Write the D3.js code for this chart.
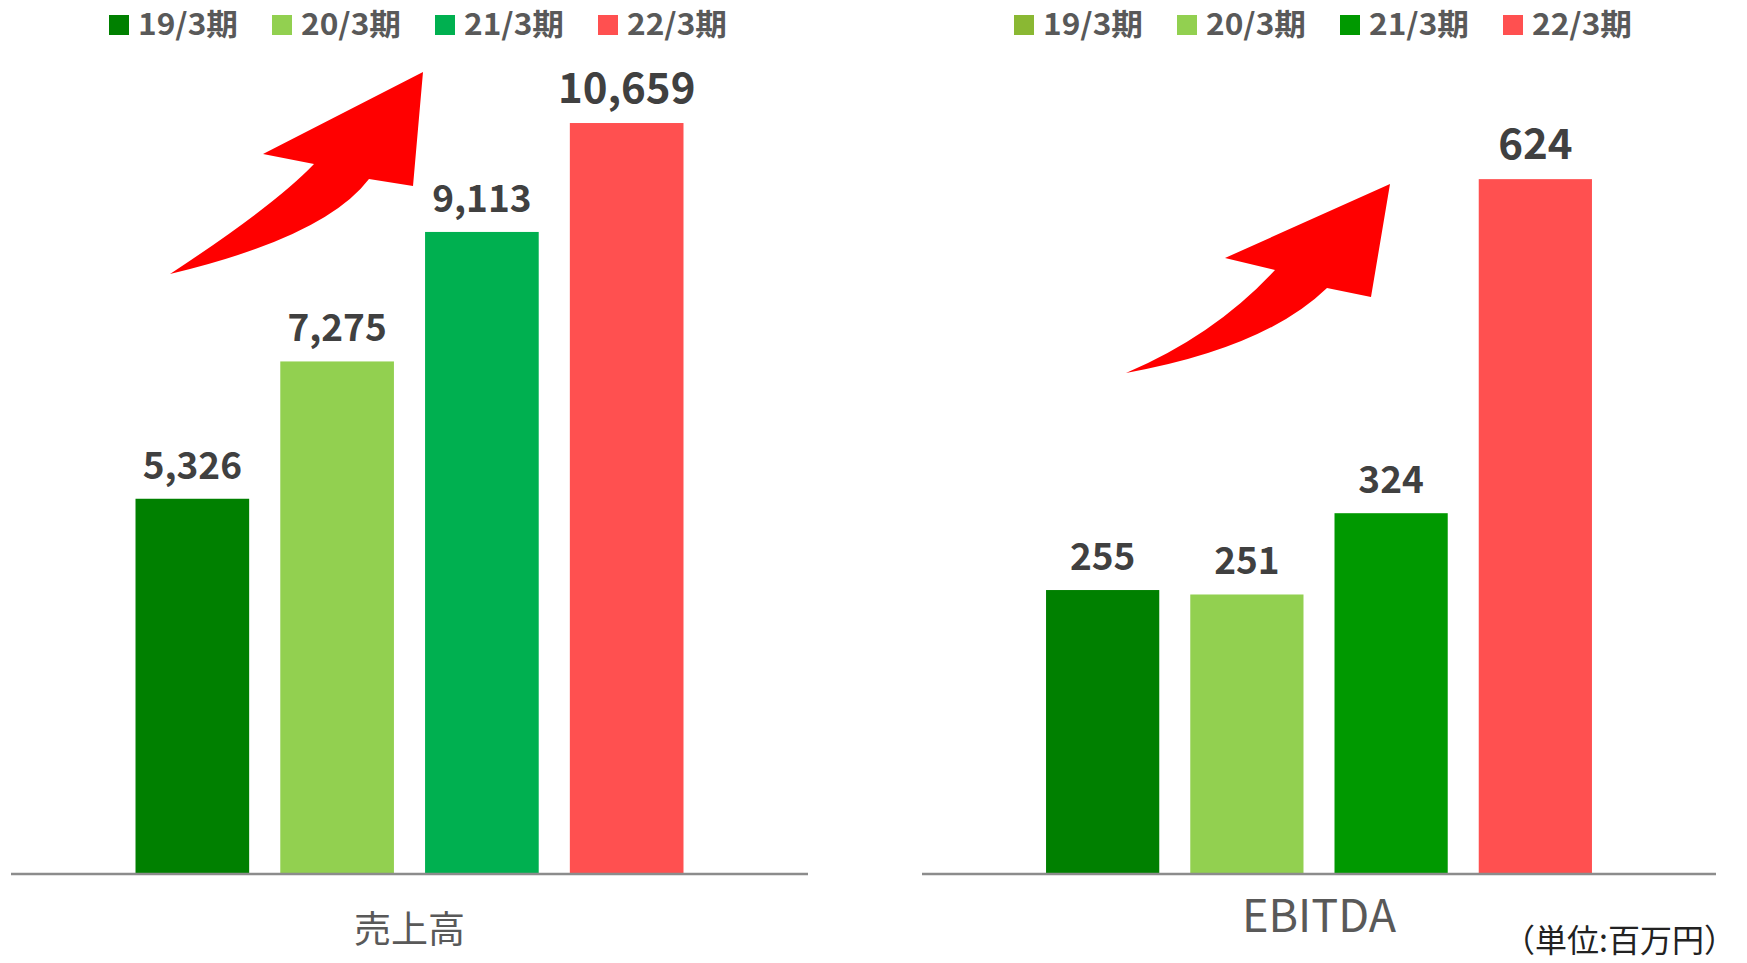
<!DOCTYPE html>
<html>
  <head>
    <meta charset="utf-8" />
    <script src="https://cdn.jsdelivr.net/npm/d3@7/dist/d3.min.js"></script>
    <style>
      body { margin: 0; background: #ffffff; }
      svg { display: block; }
      .legend-text { font-family: "Noto Sans CJK JP", "Noto Sans", sans-serif; font-weight: 700; fill: #595959; }
      .value { font-family: "Noto Sans CJK JP", "Noto Sans", sans-serif; font-weight: 700; fill: #404040; }
      .title { font-family: "Noto Sans CJK JP", "Noto Sans", sans-serif; fill: #595959; }
      .unit { font-family: "Noto Sans CJK JP", sans-serif; fill: #222222; }
      .baseline { stroke: #8c8c8c; stroke-width: 2.5; }
      .arrow { fill: #ff0000; }
    </style>
  </head>
  <body>
    <svg width="1747" height="963"></svg>

    <script type="text/javascript">

    // data
    var periods = ["19/3期", "20/3期", "21/3期", "22/3期"];
    var salesValues = [5326, 7275, 9113, 10659];
    var ebitdaValues = [255, 251, 324, 624];
    var chartTitles = ["売上高", "EBITDA"];
    var unitLabel = "（単位:百万円）";

    var salesColors = ["#008000", "#92d050", "#00b050", "#ff5050"];
    var ebitdaColors = ["#008000", "#92d050", "#009900", "#ff5050"];
    var ebitdaLegendColors = ["#8ab833", "#92d050", "#009900", "#ff5050"];

    var svg = d3.select("svg");
    var baseY = 874;

    var charts = [
      { title: chartTitles[0], values: salesValues, colors: salesColors, legendColors: salesColors,
        x0: 11, x1: 808, max: 11000, top: 99, legendX: 109, titleY: 943, titleSize: 37 },
      { title: chartTitles[1], values: ebitdaValues, colors: ebitdaColors, legendColors: ebitdaLegendColors,
        x0: 922, x1: 1716, max: 700, top: 94.5, legendX: 1014, titleY: 932, titleSize: 45 }
    ];

    charts.forEach(function(c) {
      var x = d3.scaleBand().domain(periods).range([c.x0, c.x1]).paddingInner(0.215).paddingOuter(0.86);
      var y = d3.scaleLinear().domain([0, c.max]).range([baseY, c.top]);
      var g = svg.append("g");

      g.selectAll("rect.bar")
        .data(c.values)
        .enter().append("rect")
        .attr("class", "bar")
        .attr("x", function(d, i) { return x(periods[i]); })
        .attr("y", function(d) { return y(d); })
        .attr("width", x.bandwidth())
        .attr("height", function(d) { return baseY - y(d); })
        .style("fill", function(d, i) { return c.colors[i]; });

      g.selectAll("text.value")
        .data(c.values)
        .enter().append("text")
        .attr("class", "value")
        .attr("x", function(d, i) { return x(periods[i]) + x.bandwidth() / 2; })
        .attr("y", function(d) { return y(d) - 20; })
        .attr("text-anchor", "middle")
        .style("font-size", function(d, i) { return (i == 3 ? 42 : 37) + "px"; })
        .text(function(d) { return d3.format(",")(d); });

      g.append("line")
        .attr("class", "baseline")
        .attr("x1", c.x0).attr("x2", c.x1)
        .attr("y1", baseY).attr("y2", baseY);

      g.append("text")
        .attr("class", "title")
        .attr("x", (c.x0 + c.x1) / 2)
        .attr("y", c.titleY)
        .attr("text-anchor", "middle")
        .style("font-size", c.titleSize + "px")
        .text(c.title);

      // legend
      var legend = g.selectAll("g.legend")
        .data(periods)
        .enter().append("g")
        .attr("class", "legend")
        .attr("transform", function(d, i) { return "translate(" + (c.legendX + i * 163) + ",0)"; });

      legend.append("rect")
        .attr("x", 0).attr("y", 15)
        .attr("width", 20).attr("height", 20)
        .style("fill", function(d, i) { return c.legendColors[i]; });

      legend.append("text")
        .attr("class", "legend-text")
        .attr("x", 29).attr("y", 35)
        .style("font-size", "30px")
        .attr("textLength", 100)
        .attr("lengthAdjust", "spacingAndGlyphs")
        .text(function(d) { return d; });
    });

    // growth arrows
    svg.append("path")
      .attr("class", "arrow")
      .attr("d", "M170,274 Q275,205 314,164 L263,154 L423,72 L413,186 L369,179 Q325,237 170,274 Z");

    svg.append("path")
      .attr("class", "arrow")
      .attr("d", "M1126,373 Q1215,335 1275,270 L1225,258 L1390,184 L1371,297 L1327,288 Q1265,348 1126,373 Z");

    svg.append("text")
      .attr("class", "unit")
      .attr("x", 1736)
      .attr("y", 952)
      .attr("text-anchor", "end")
      .style("font-size", "32px")
      .text(unitLabel);

    </script>
  </body>
</html>
